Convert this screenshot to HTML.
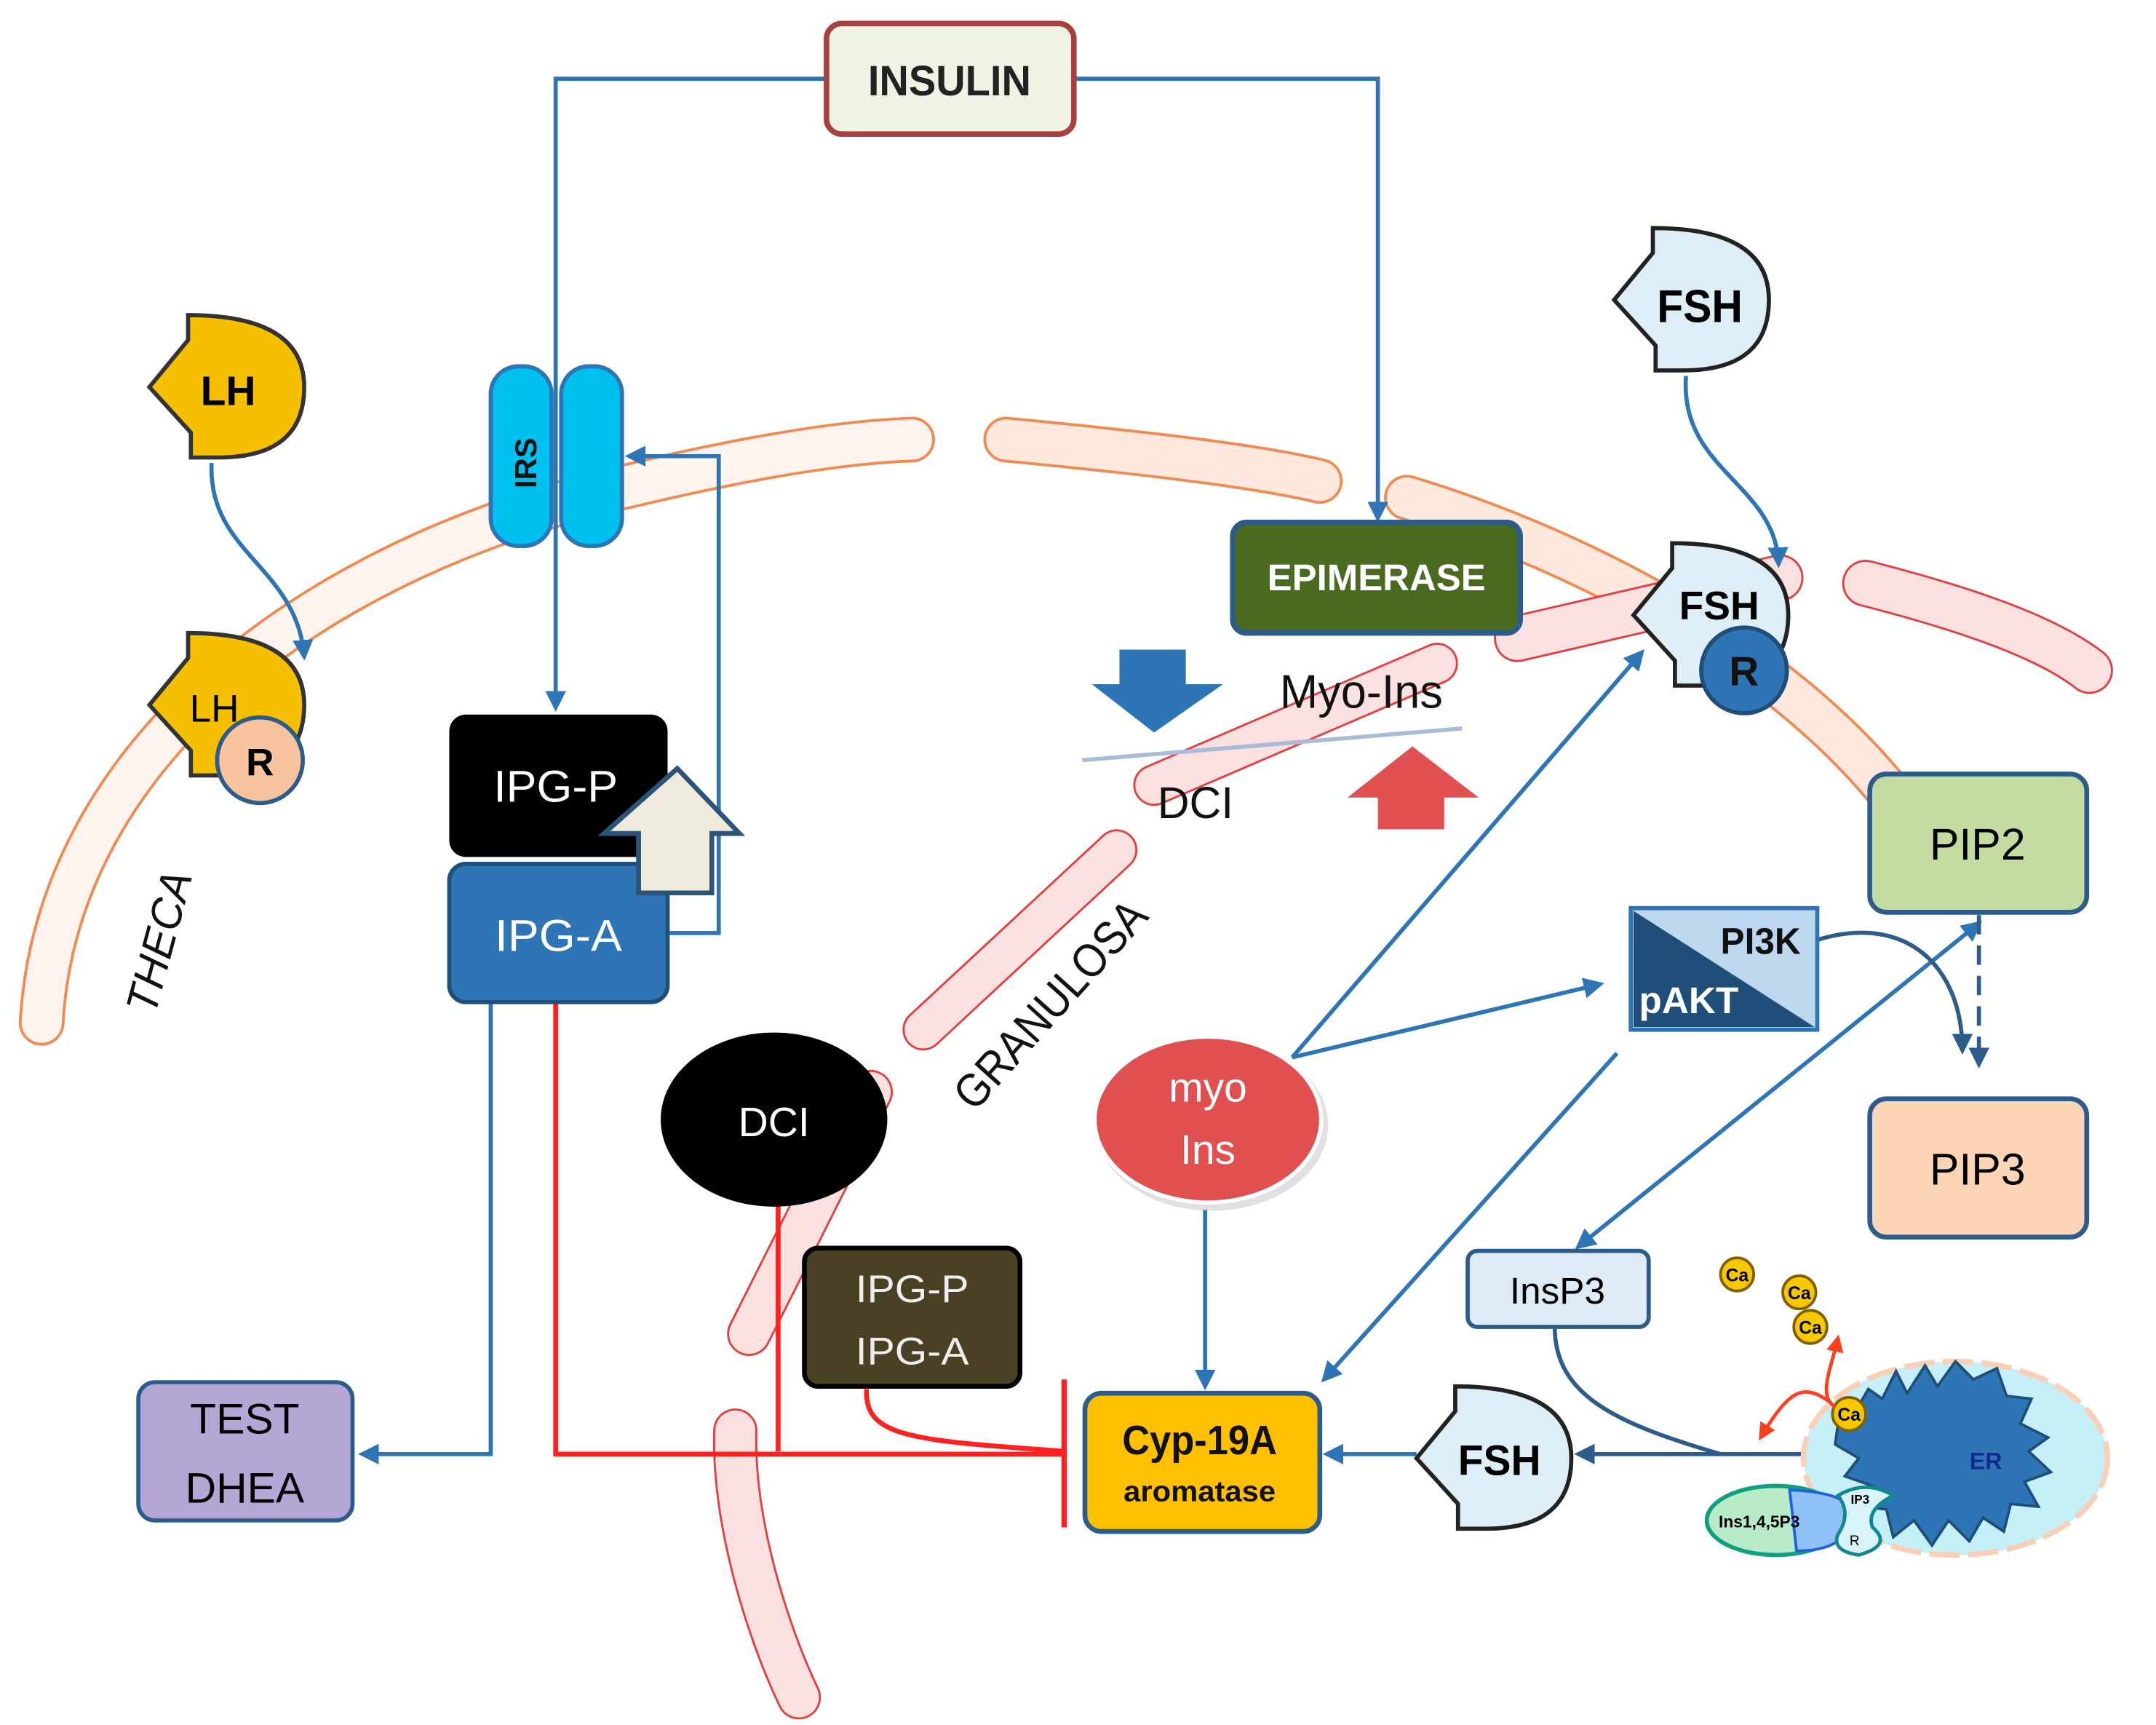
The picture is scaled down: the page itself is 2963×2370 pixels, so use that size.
<!DOCTYPE html>
<html><head><meta charset="utf-8"><style>
html,body{margin:0;padding:0;background:#fff;}
svg{display:block;}
text{font-family:"Liberation Sans Narrow","Liberation Sans",sans-serif;}
</style></head><body>
<svg width="2963" height="2370" viewBox="0 0 1560 1248" xmlns="http://www.w3.org/2000/svg">
<defs>
<marker id="ab" viewBox="0 0 10 10" refX="8" refY="5" markerWidth="5" markerHeight="5" orient="auto-start-reverse"><path d="M0,0 L10,5 L0,10 z" fill="#2e75b6"/></marker>
<marker id="ad" viewBox="0 0 10 10" refX="8" refY="5" markerWidth="5" markerHeight="5" orient="auto"><path d="M0,0 L10,5 L0,10 z" fill="#2d5c8a"/></marker>
<marker id="ar" viewBox="0 0 10 10" refX="8" refY="5" markerWidth="5" markerHeight="5" orient="auto"><path d="M0,0 L10,5 L0,10 z" fill="#ff4020"/></marker>
<path id="lig" d="M0,52 L28,18 L28,0 Q112,0 112,52 Q112,103 50,103 L30,103 L30,85 Z"/>
</defs>

<g fill="none" stroke-linecap="round">
<path d="M30,740 C40,560 200,420 420,360 C520,335 600,320 660,318" stroke="#f08a50" stroke-width="33"/>
<path d="M30,740 C40,560 200,420 420,360 C520,335 600,320 660,318" stroke="#fff3ee" stroke-width="29"/>
<path d="M728,318 C800,325 900,335 955,348" stroke="#f08a50" stroke-width="33"/>
<path d="M728,318 C800,325 900,335 955,348" stroke="#ffe8de" stroke-width="29"/>
<path d="M1018,360 C1150,400 1300,480 1380,590" stroke="#f08a50" stroke-width="33"/>
<path d="M1018,360 C1150,400 1300,480 1380,590" stroke="#ffe8de" stroke-width="29"/>
<path d="M1098,462 L1288,418" stroke="#e04040" stroke-width="34"/>
<path d="M1098,462 L1288,418" stroke="#fbe0e0" stroke-width="31"/>
<path d="M1350,422 C1420,440 1480,460 1512,485" stroke="#e04040" stroke-width="34"/>
<path d="M1350,422 C1420,440 1480,460 1512,485" stroke="#fbe0e0" stroke-width="31"/>
<path d="M835,568 L1040,480" stroke="#e04040" stroke-width="30"/>
<path d="M835,568 L1040,480" stroke="#fbe0e0" stroke-width="27"/>
<path d="M668,745 L808,615" stroke="#e04040" stroke-width="30"/>
<path d="M668,745 L808,615" stroke="#fbe0e0" stroke-width="27"/>
<path d="M542,965 L630,790" stroke="#e04040" stroke-width="32"/>
<path d="M542,965 L630,790" stroke="#fbe0e0" stroke-width="29"/>
<path d="M532,1035 C530,1100 555,1180 578,1228" stroke="#e04040" stroke-width="32"/>
<path d="M532,1035 C530,1100 555,1180 578,1228" stroke="#fbe0e0" stroke-width="29"/>
</g>

<g fill="none" stroke="#2e75b6" stroke-width="3">
<path d="M598,57 L402,57 L402,512" marker-end="url(#ab)"/>
<path d="M777,57 L997,57 L997,375" marker-end="url(#ab)"/>
<path d="M483,675 L520,675 L520,330 L455,330" marker-end="url(#ab)"/>
<path d="M355,725 L355,1052 L262,1052" marker-end="url(#ab)"/>
<path d="M153,335 C150,400 215,410 220,475" marker-end="url(#ab)"/>
<path d="M1220,272 C1215,340 1285,350 1287,408" marker-end="url(#ab)"/>
<path d="M935,765 L1188,472" marker-end="url(#ab)"/>
<path d="M935,765 L1158,712" marker-end="url(#ab)"/>
<path d="M872,875 L872,1003" marker-end="url(#ab)"/>
<path d="M1170,762 L958,998" marker-end="url(#ab)"/>
<path d="M1432,668 L1142,902" marker-start="url(#ab)" marker-end="url(#ab)"/>
<path d="M1025,1052 L960,1052" marker-end="url(#ab)"/>
</g>
<g fill="none" stroke="#2d5c8a" stroke-width="3">
<path d="M1315,680 C1380,660 1420,700 1420,760" marker-end="url(#ad)"/>
<path d="M1432,662 L1432,770" stroke-dasharray="14,8" marker-end="url(#ad)"/>
<path d="M1125,960 C1125,1010 1170,1030 1245,1052"/>
<path d="M1305,1052 L1142,1052" marker-end="url(#ad)"/>
</g>
<g fill="none" stroke="#ff2020" stroke-width="3.5">
<path d="M402,725 L402,1052 L770,1052"/>
<path d="M563,870 L563,1050"/>
<path d="M627,1005 C625,1040 660,1042 770,1050"/>
<path d="M770,998 L770,1105" stroke-width="4"/>
</g>

<rect x="598" y="17" width="179" height="80" rx="11" fill="#eef3e4" stroke="#a84040" stroke-width="4"/>
<text x="687" y="69" font-size="31" font-weight="bold" text-anchor="middle" fill="#222" textLength="118" lengthAdjust="spacingAndGlyphs">INSULIN</text>

<rect x="355" y="265" width="44" height="130" rx="20" fill="#00c0f0" stroke="#2e75b6" stroke-width="3"/>
<rect x="406" y="265" width="44" height="130" rx="20" fill="#00c0f0" stroke="#2e75b6" stroke-width="3"/>
<text transform="translate(388,335) rotate(-90)" font-size="22" font-weight="bold" text-anchor="middle" fill="#111">IRS</text>

<use href="#lig" x="108" y="228" fill="#f5c000" stroke="#333" stroke-width="3"/>
<text x="165" y="293" font-size="30" font-weight="bold" text-anchor="middle">LH</text>
<use href="#lig" x="108" y="458" fill="#f5c000" stroke="#333" stroke-width="3"/>
<text x="155" y="522" font-size="28" text-anchor="middle">LH</text>
<circle cx="188" cy="550" r="31" fill="#f8c4a0" stroke="#2d5c8a" stroke-width="3"/>
<text x="188" y="561" font-size="28" font-weight="bold" text-anchor="middle">R</text>

<text transform="translate(112,735) rotate(-75)" font-size="32" font-style="italic" fill="#111" textLength="105" lengthAdjust="spacingAndGlyphs">THECA</text>
<text transform="translate(705,805) rotate(-48)" font-size="34" fill="#111" textLength="190" lengthAdjust="spacingAndGlyphs">GRANULOSA</text>

<rect x="325" y="517" width="158" height="103" rx="12" fill="#000"/>
<text x="402" y="580" font-size="32" fill="#fff" text-anchor="middle" textLength="90" lengthAdjust="spacingAndGlyphs">IPG-P</text>
<rect x="325" y="625" width="158" height="100" rx="12" fill="#2e75b6" stroke="#1f4e79" stroke-width="3"/>
<text x="404" y="688" font-size="32" fill="#fff" text-anchor="middle" textLength="92" lengthAdjust="spacingAndGlyphs">IPG-A</text>
<polygon points="490,556 535,603 515,603 515,646 462,646 462,603 437,603" fill="#eeeadc" stroke="#2d5478" stroke-width="3.5"/>

<rect x="100" y="1000" width="155" height="100" rx="12" fill="#b4a7d6" stroke="#2d5c8a" stroke-width="3"/>
<text x="177" y="1037" font-size="31" text-anchor="middle">TEST</text>
<text x="177" y="1087" font-size="31" text-anchor="middle">DHEA</text>

<ellipse cx="560" cy="810" rx="82" ry="63" fill="#000"/>
<text x="560" y="822" font-size="30" fill="#fff" text-anchor="middle">DCI</text>

<rect x="582" y="903" width="156" height="100" rx="10" fill="#4a4125" stroke="#000" stroke-width="3.5"/>
<text x="660" y="942" font-size="28" fill="#eee" text-anchor="middle" textLength="82" lengthAdjust="spacingAndGlyphs">IPG-P</text>
<text x="660" y="987" font-size="28" fill="#eee" text-anchor="middle" textLength="82" lengthAdjust="spacingAndGlyphs">IPG-A</text>

<rect x="785" y="1008" width="170" height="100" rx="12" fill="#ffc000" stroke="#2d5c8a" stroke-width="3.5"/>
<text x="868" y="1052" font-size="30" font-weight="bold" text-anchor="middle" fill="#111" textLength="112" lengthAdjust="spacingAndGlyphs">Cyp-19A</text>
<text x="868" y="1086" font-size="21" font-weight="bold" text-anchor="middle" fill="#111" textLength="110" lengthAdjust="spacingAndGlyphs">aromatase</text>

<ellipse cx="877" cy="814" rx="84" ry="62" fill="#ccc" opacity="0.6"/>
<ellipse cx="874" cy="810" rx="82" ry="60" fill="#e05050" stroke="#fff" stroke-width="3"/>
<text x="874" y="797" font-size="30" fill="#fff" text-anchor="middle">myo</text>
<text x="874" y="842" font-size="30" fill="#fff" text-anchor="middle">Ins</text>

<rect x="892" y="378" width="208" height="80" rx="10" fill="#4a6a20" stroke="#2d5c8a" stroke-width="4"/>
<text x="996" y="427" font-size="27" font-weight="bold" fill="#fff" text-anchor="middle" textLength="158" lengthAdjust="spacingAndGlyphs">EPIMERASE</text>

<polygon points="810,470 858,470 858,495 885,495 835,530 790,495 810,495" fill="#2e75b6"/>
<polygon points="997,600 1045,600 1045,577 1070,577 1022,540 975,577 997,577" fill="#e05050"/>
<line x1="783" y1="550" x2="1058" y2="527" stroke="#a8bcd8" stroke-width="3"/>
<text x="985" y="512" font-size="34" text-anchor="middle" fill="#111" textLength="118" lengthAdjust="spacingAndGlyphs">Myo-Ins</text>
<text x="865" y="592" font-size="32" text-anchor="middle" fill="#111" textLength="55" lengthAdjust="spacingAndGlyphs">DCI</text>

<use href="#lig" x="1168" y="165" fill="#ddeef7" stroke="#222" stroke-width="3"/>
<text x="1230" y="233" font-size="33" font-weight="bold" text-anchor="middle" textLength="62" lengthAdjust="spacingAndGlyphs">FSH</text>
<use href="#lig" x="1182" y="393" fill="#ddeef7" stroke="#222" stroke-width="3"/>
<text x="1244" y="448" font-size="29" font-weight="bold" text-anchor="middle" textLength="58" lengthAdjust="spacingAndGlyphs">FSH</text>
<circle cx="1262" cy="485" r="31" fill="#2e75b6" stroke="#1f4e79" stroke-width="3"/>
<text x="1262" y="496" font-size="30" font-weight="bold" text-anchor="middle" fill="#111">R</text>

<rect x="1180" y="657" width="135" height="88" fill="#bdd7ee" stroke="#2e75b6" stroke-width="3"/>
<polygon points="1182,659 1313,743 1182,743" fill="#1f4e79"/>
<text x="1303" y="690" font-size="27" font-weight="bold" text-anchor="end" fill="#111" textLength="58" lengthAdjust="spacingAndGlyphs">PI3K</text>
<text x="1186" y="733" font-size="27" font-weight="bold" fill="#fff" textLength="72" lengthAdjust="spacingAndGlyphs">pAKT</text>

<rect x="1353" y="560" width="157" height="100" rx="12" fill="#c5dca0" stroke="#2d5c8a" stroke-width="3.5"/>
<text x="1431" y="622" font-size="32" text-anchor="middle">PIP2</text>
<rect x="1353" y="795" width="157" height="100" rx="12" fill="#fbd5b5" stroke="#2d5c8a" stroke-width="3.5"/>
<text x="1431" y="857" font-size="32" text-anchor="middle">PIP3</text>

<rect x="1062" y="905" width="131" height="55" rx="7" fill="#ddebf7" stroke="#2d5c8a" stroke-width="3"/>
<text x="1127" y="943" font-size="27" text-anchor="middle">InsP3</text>

<use href="#lig" x="1025" y="1003" fill="#ddeef7" stroke="#222" stroke-width="3"/>
<text x="1085" y="1067" font-size="31" font-weight="bold" text-anchor="middle" textLength="60" lengthAdjust="spacingAndGlyphs">FSH</text>

<ellipse cx="1415" cy="1055" rx="110" ry="70" fill="#c6f0f8" stroke="#f8d0b8" stroke-width="4" stroke-dasharray="22,6"/>
<path d="M1330,1030 L1342,1022 L1352,1005 L1362,1012 L1372,992 L1380,1008 L1393,988 L1402,1003 L1415,985 L1428,998 L1445,990 L1452,1010 L1470,1012 L1462,1030 L1482,1040 L1468,1050 L1484,1065 L1465,1072 L1475,1090 L1455,1088 L1450,1108 L1435,1098 L1425,1115 L1410,1100 L1398,1118 L1385,1100 L1370,1112 L1365,1092 L1348,1090 L1355,1075 L1335,1068 L1345,1055 L1328,1045 Z" fill="#2e75b6" stroke="#1f4e79" stroke-width="2"/>
<text x="1437" y="1063" font-size="17" font-weight="bold" fill="#102c90" text-anchor="middle">ER</text>
<ellipse cx="1285" cy="1100" rx="50" ry="25" fill="#b8ecc8" stroke="#10a080" stroke-width="3"/>
<path d="M1295,1078 Q1345,1080 1340,1100 Q1335,1122 1300,1122 Z" fill="#90c0f8" stroke="#2060e0" stroke-width="2"/>
<path d="M1330,1082 Q1350,1070 1370,1082 Q1350,1092 1355,1105 Q1370,1118 1345,1125 Q1325,1122 1330,1110 Q1340,1095 1330,1082 Z" fill="#d8f4fa" stroke="#108890" stroke-width="2.5"/>
<text x="1273" y="1105" font-size="12" font-weight="bold" text-anchor="middle">Ins1,4,5P3</text>
<text x="1346" y="1088" font-size="9" font-weight="bold" text-anchor="middle">IP3</text>
<text x="1342" y="1118" font-size="10" text-anchor="middle">R</text>
<g font-size="13" font-weight="bold" text-anchor="middle">
<circle cx="1257" cy="922" r="12" fill="#f5c800" stroke="#806000" stroke-width="2"/><text x="1257" y="927">Ca</text>
<circle cx="1302" cy="935" r="12" fill="#f5c800" stroke="#806000" stroke-width="2"/><text x="1302" y="940">Ca</text>
<circle cx="1310" cy="960" r="12" fill="#f5c800" stroke="#806000" stroke-width="2"/><text x="1310" y="965">Ca</text>
<circle cx="1338" cy="1023" r="12" fill="#f5c800" stroke="#806000" stroke-width="2"/><text x="1338" y="1028">Ca</text>
</g>
<path d="M1328,1018 C1315,1010 1325,990 1330,968" fill="none" stroke="#ff4020" stroke-width="2.5" marker-end="url(#ar)"/>
<path d="M1325,1015 C1305,1000 1295,1005 1274,1040" fill="none" stroke="#ff4020" stroke-width="2.5" marker-end="url(#ar)"/>
</svg>
</body></html>
